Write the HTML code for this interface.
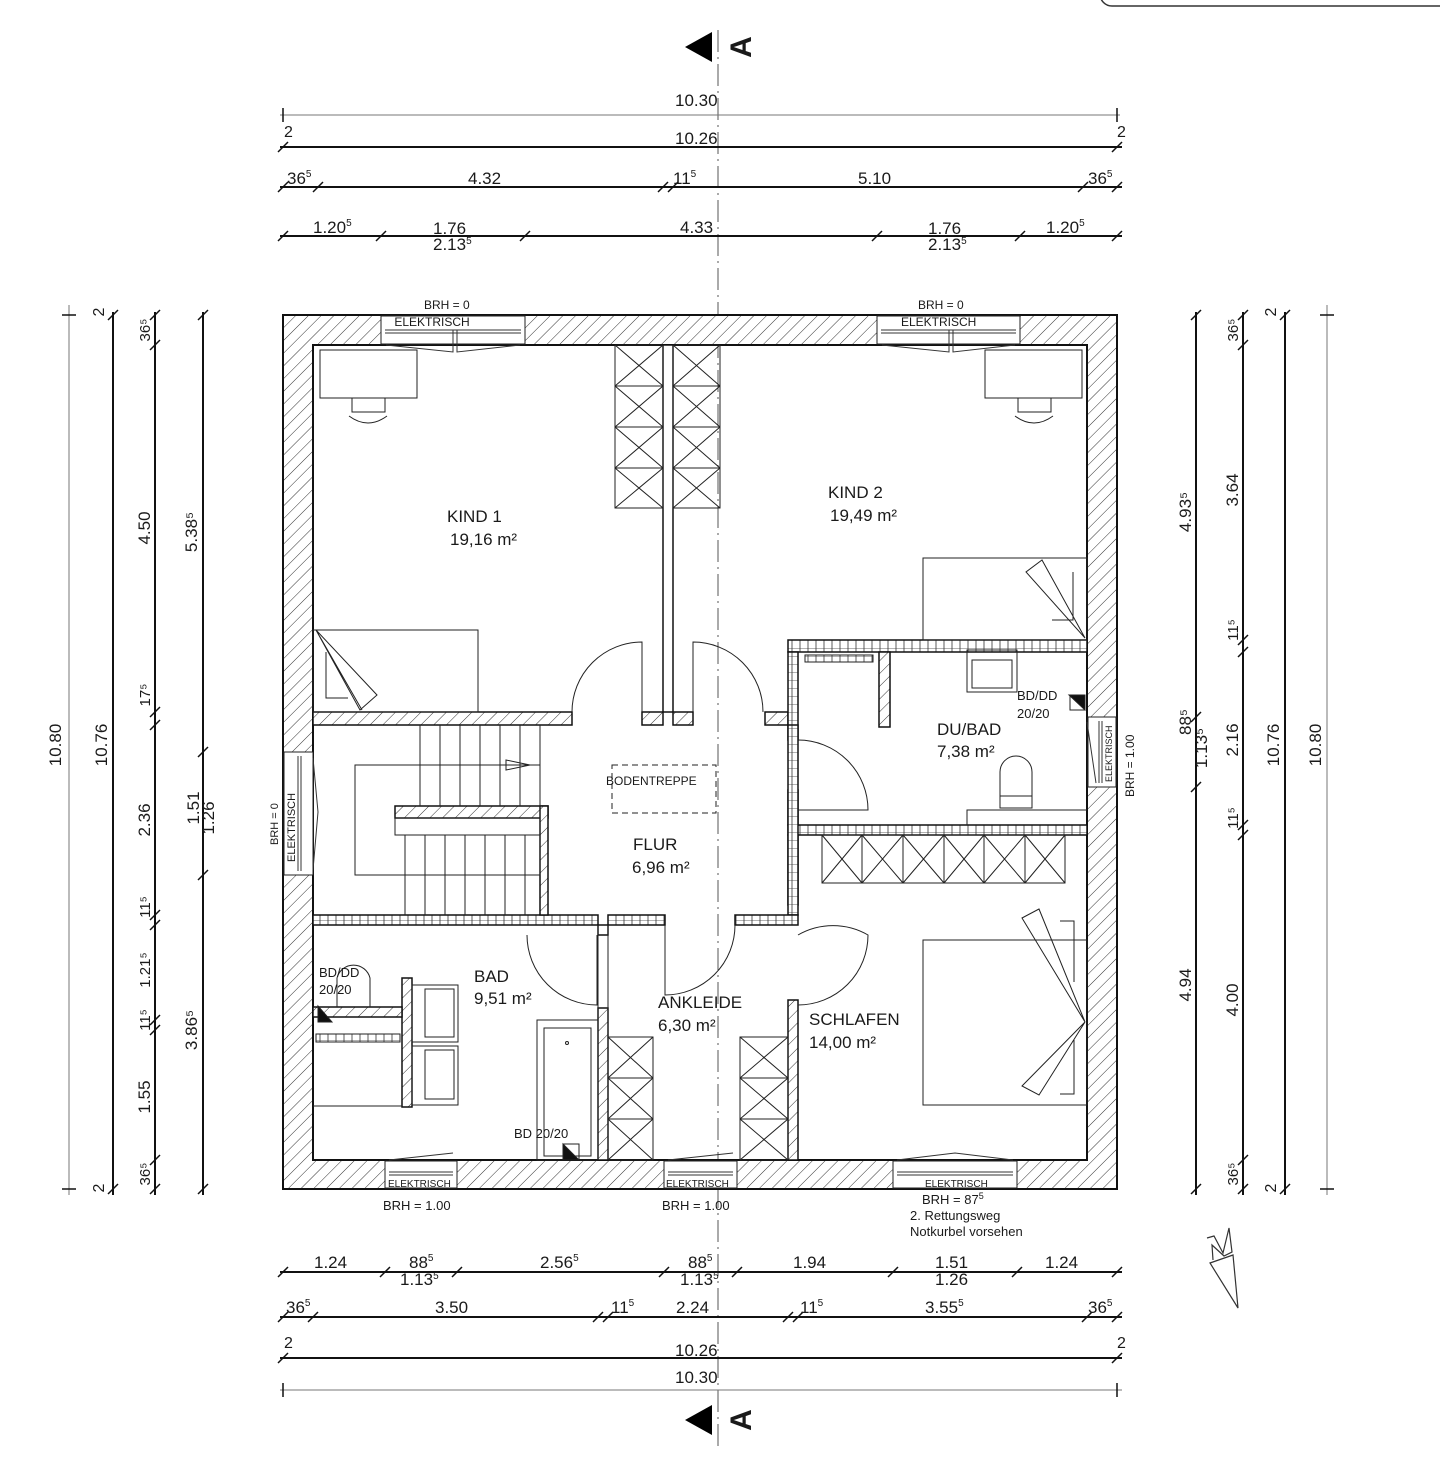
<!DOCTYPE html>
<html><head><meta charset="utf-8"><style>
html,body{margin:0;padding:0;background:#fff;}
svg{display:block;}
text{font-family:"Liberation Sans",sans-serif;fill:#1a1a1a;}
.r{font-size:17px;}
.d{font-size:17px;}
.s{font-size:12px;}
.sup{font-size:10px;}
</style></head><body>
<svg width="1440" height="1480" viewBox="0 0 1440 1480" xmlns="http://www.w3.org/2000/svg">
<defs>
<pattern id="h" patternUnits="userSpaceOnUse" width="9" height="9" patternTransform="rotate(45)">
<rect width="9" height="9" fill="#fff"/><line x1="0" y1="0" x2="0" y2="9" stroke="#333" stroke-width="1"/></pattern>
<pattern id="b" patternUnits="userSpaceOnUse" width="8" height="8">
<rect width="8" height="8" fill="#fff"/><path d="M0 0H8V8M0 0V8" fill="none" stroke="#333" stroke-width="0.8"/></pattern>
</defs>
<rect x="1100" y="-30" width="400" height="36" rx="12" fill="none" stroke="#333" stroke-width="1.5"/>

<!-- center axis -->
<line x1="718" y1="30" x2="718" y2="1450" stroke="#555" stroke-width="1" stroke-dasharray="22,5,2,5"/>

<!-- outer walls hatched -->
<path d="M283 315H1117V1189H283Z M313 345V1160H1087V345Z" fill="url(#h)" fill-rule="evenodd" stroke="#111" stroke-width="2"/>
<!-- windows -->
<g fill="#fff" stroke="#222" stroke-width="1">
<rect x="381" y="316" width="144" height="28"/><rect x="877" y="316" width="143" height="28"/>
<rect x="385" y="1161" width="72" height="27"/><rect x="664" y="1161" width="73" height="27"/><rect x="893" y="1161" width="124" height="27"/>
<rect x="284" y="752" width="29" height="123"/><rect x="1088" y="717" width="28" height="70"/>
</g>
<g stroke="#333" stroke-width="1" fill="none">
<path d="M385 330H521M385 333H521M386 345L453 352V330M520 345L457 352V330"/>
<path d="M881 330H1016M881 333H1016M882 345L949 352V330M1015 345L953 352V330"/>
<path d="M389 1175H453M389 1172H453M389 1160L453 1153"/>
<path d="M668 1175H733M668 1172H733M668 1160L733 1153"/>
<path d="M897 1175H1013M897 1172H1013M897 1160L955 1153L1013 1160"/>
<path d="M298 756V871M301 756V871M313 758L318 812L313 870"/>
<path d="M1102 721V783M1099 721V783M1087 722L1096 783"/>
</g>
<g class="s">
<text x="381" y="326" font-size="12">&#160;&#160;&#160;&#160;ELEKTRISCH</text>
<text x="901" y="326" font-size="12">ELEKTRISCH</text>
<text x="424" y="309" font-size="12">BRH = 0</text>
<text x="918" y="309" font-size="12">BRH = 0</text>
<text x="388" y="1187" font-size="10">ELEKTRISCH</text>
<text x="666" y="1187" font-size="10">ELEKTRISCH</text>
<text x="925" y="1187" font-size="10">ELEKTRISCH</text>
<text transform="translate(295,862) rotate(-90)" font-size="11">ELEKTRISCH</text>
<text transform="translate(278,845) rotate(-90)" font-size="11">BRH = 0</text>
<text transform="translate(1112,782) rotate(-90)" font-size="9">ELEKTRISCH</text>
<text transform="translate(1134,797) rotate(-90)" font-size="12">BRH = 1.00</text>
<text x="383" y="1210" font-size="13">BRH = 1.00</text>
<text x="662" y="1210" font-size="13">BRH = 1.00</text>
<text x="922" y="1204" font-size="13">BRH = 87<tspan font-size="9" dy="-5">5</tspan></text>
<text x="910" y="1220" font-size="13">2. Rettungsweg</text>
<text x="910" y="1236" font-size="13">Notkurbel vorsehen</text>
</g>

<!-- interior walls -->
<g stroke="#111" stroke-width="1.5">
<rect x="663" y="345" width="10" height="367" fill="#fff"/>
<rect x="313" y="712" width="259" height="13" fill="url(#h)"/>
<rect x="642" y="712" width="21" height="13" fill="url(#h)"/>
<rect x="673" y="712" width="20" height="13" fill="url(#h)"/>
<rect x="765" y="712" width="23" height="13" fill="url(#h)"/>
<rect x="788" y="640" width="299" height="12" fill="url(#b)"/>
<rect x="788" y="652" width="10" height="88" fill="url(#b)"/>
<rect x="788" y="825" width="299" height="10" fill="url(#b)"/>
<rect x="788" y="790" width="10" height="35" fill="url(#b)"/>
<rect x="788" y="835" width="10" height="70" fill="url(#b)"/>
<rect x="788" y="725" width="10" height="190" fill="url(#b)"/>
<rect x="313" y="915" width="285" height="10" fill="url(#b)"/>
<rect x="664" y="915" width="0" height="0"/>
<rect x="608" y="915" width="57" height="10" fill="url(#b)"/>
<rect x="735" y="915" width="63" height="10" fill="url(#b)"/>
<rect x="598" y="925" width="10" height="10" fill="#fff"/>
<rect x="598" y="1008" width="10" height="152" fill="url(#h)"/>
<rect x="788" y="1000" width="10" height="160" fill="url(#h)"/>
<rect x="879" y="652" width="11" height="75" fill="url(#h)"/>
<rect x="395" y="806" width="153" height="12" fill="url(#h)"/>
<rect x="540" y="806" width="8" height="109" fill="url(#h)"/>
<rect x="402" y="978" width="10" height="129" fill="url(#h)"/>
<rect x="313" y="1007" width="89" height="10" fill="url(#h)"/>
</g>
<g fill="none" stroke="#222" stroke-width="1">
<line x1="608" y1="925" x2="608" y2="1160"/><line x1="598" y1="925" x2="598" y2="1160"/>
<line x1="540" y1="725" x2="540" y2="806"/>
<!-- door arcs -->
<path d="M572 712A70 70 0 0 1 642 642V712"/>
<path d="M763 712A70 70 0 0 0 693 642V712"/>
<path d="M798 740A70 70 0 0 1 868 810H798"/>
<path d="M798 935A70 70 0 0 1 868 935A70 70 0 0 1 798 1005"/>
<path d="M527 935A70 70 0 0 0 597 1005V935"/>
<path d="M735 925A70 70 0 0 1 665 995V925"/>
<!-- Kind1 furniture -->
<rect x="320" y="350" width="97" height="48"/>
<path d="M352 398V412H385V398M349 416Q368 430 387 416"/>
<rect x="615" y="345" width="48" height="163"/>
<path d="M615 386H663M615 427H663M615 468H663M615 345L663 386M663 345L615 386M615 386L663 427M663 386L615 427M615 427L663 468M663 427L615 468M615 468L663 508M663 468L615 508"/>
<rect x="313" y="630" width="165" height="82"/>
<path d="M316 630L377 695L360 710Z M316 630L362 710M326 652V698H348"/>
<!-- Kind2 -->
<rect x="673" y="345" width="47" height="163"/>
<path d="M673 386H720M673 427H720M673 468H720M673 345L720 386M720 345L673 386M673 386L720 427M720 386L673 427M673 427L720 468M720 427L673 468M673 468L720 508M720 468L673 508"/>
<rect x="985" y="350" width="97" height="48"/>
<path d="M1018 398V412H1051V398M1015 416Q1034 430 1053 416"/>
<rect x="923" y="558" width="164" height="82"/>
<path d="M1085 638L1026 572L1042 560Z M1085 638L1042 560M1073 572V620H1052"/>
<!-- stair -->
<rect x="355" y="765" width="185" height="110"/>
<path d="M420 725V806M440 725V806M460 725V806M480 725V806M500 725V806M520 725V806"/>
<path d="M405 835V915M425 835V915M445 835V915M465 835V915M485 835V915M505 835V915M525 835V915"/>
<rect x="395" y="818" width="145" height="17"/>
<path d="M506 760L530 765L506 770Z"/>
<rect x="612" y="765" width="104" height="48" stroke-dasharray="6,4"/>
<!-- Du/Bad -->
<rect x="805" y="655" width="68" height="7" fill="url(#b)"/>
<rect x="967" y="650" width="50" height="42"/><rect x="972" y="660" width="40" height="28"/>
<path d="M1000 808V772A16 16 0 0 1 1032 772V808Z M1000 796H1032"/>
<path d="M967 825V810H1087"/>
<path d="M1069 695H1085V710Z" fill="#111"/>
<rect x="1070" y="695" width="15" height="15"/>
<!-- Schlafen -->
<rect x="822" y="835" width="243" height="48"/>
<path d="M862 835V883M903 835V883M944 835V883M984 835V883M1025 835V883"/>
<path d="M822 835L862 883M862 835L822 883M862 835L903 883M903 835L862 883M903 835L944 883M944 835L903 883M944 835L984 883M984 835L944 883M984 835L1025 883M1025 835L984 883M1025 835L1065 883M1065 835L1025 883"/>
<rect x="923" y="940" width="164" height="165"/>
<path d="M1085 1022L1039 909L1022 918Z M1085 1022L1022 918M1085 1022L1039 1095L1022 1086Z M1085 1022L1022 1086M1060 921H1074V982M1060 1094H1074V1040"/>
<!-- Ankleide -->
<rect x="608" y="1037" width="45" height="123"/>
<path d="M608 1078H653M608 1119H653M608 1037L653 1078M653 1037L608 1078M608 1078L653 1119M653 1078L608 1119M608 1119L653 1160M653 1119L608 1160"/>
<rect x="740" y="1037" width="48" height="123"/>
<path d="M740 1078H788M740 1119H788M740 1037L788 1078M788 1037L740 1078M740 1078L788 1119M788 1078L740 1119M740 1119L788 1160M788 1119L740 1160"/>
<!-- Bad -->
<path d="M337 1007V978A17 17 0 0 1 370 978V1007"/>
<path d="M318 1006L332 1022H318Z" fill="#111"/>
<rect x="316" y="1034" width="84" height="8" fill="url(#b)"/>
<line x1="313" y1="1106" x2="402" y2="1106"/>
<rect x="412" y="985" width="46" height="57"/><rect x="425" y="989" width="29" height="48"/>
<rect x="412" y="1046" width="46" height="59"/><rect x="425" y="1050" width="29" height="49"/>
<rect x="537" y="1020" width="61" height="140"/><rect x="544" y="1028" width="47" height="128"/>
<circle cx="567" cy="1043" r="1.5"/>
<rect x="563" y="1144" width="16" height="16"/>
<path d="M563 1144L579 1160H563Z" fill="#111"/>
</g>

<!-- room labels -->
<g class="r">
<text x="447" y="522">KIND 1</text><text x="450" y="545">19,16 m²</text>
<text x="828" y="498">KIND 2</text><text x="830" y="521">19,49 m²</text>
<text x="937" y="735">DU/BAD</text><text x="937" y="757">7,38 m²</text>
<text x="633" y="850">FLUR</text><text x="632" y="873">6,96 m²</text>
<text x="474" y="982">BAD</text><text x="474" y="1004">9,51 m²</text>
<text x="658" y="1008">ANKLEIDE</text><text x="658" y="1031">6,30 m²</text>
<text x="809" y="1025">SCHLAFEN</text><text x="809" y="1048">14,00 m²</text>
</g>
<g class="s">
<text x="606" y="785" font-size="12">BODENTREPPE</text>
<text x="1017" y="700" font-size="13">BD/DD</text><text x="1017" y="718" font-size="13">20/20</text>
<text x="319" y="977" font-size="13">BD/DD</text><text x="319" y="994" font-size="13">20/20</text>
<text x="514" y="1138" font-size="13">BD 20/20</text>
</g>

<!-- section markers -->
<path d="M712 32V62L685 47Z" fill="#000"/>
<text transform="translate(740,47) rotate(-90)" font-size="30" font-weight="bold" text-anchor="middle" dy="11">A</text>
<path d="M712 1405V1435L685 1420Z" fill="#000"/>
<text transform="translate(740,1420) rotate(-90)" font-size="30" font-weight="bold" text-anchor="middle" dy="11">A</text>

<!-- north arrow -->
<g fill="none" stroke="#333" stroke-width="1.2">
<path d="M1210 1263L1233 1255L1238 1308Z"/>
<path d="M1207 1238L1214 1236L1223 1253L1229 1228L1232 1252L1224 1256L1212 1245L1213 1260"/>
</g>

<!-- dimension lines -->
<g stroke="#111" stroke-width="1.5" fill="none">
<line x1="280" y1="115" x2="1120" y2="115" stroke="#777" stroke-width="1"/>
<line x1="280" y1="147" x2="1122" y2="147" stroke-width="2"/>
<line x1="280" y1="187" x2="1122" y2="187" stroke-width="2"/>
<line x1="280" y1="236" x2="1122" y2="236" stroke-width="2"/>
<line x1="280" y1="1272" x2="1122" y2="1272" stroke-width="2"/>
<line x1="280" y1="1317" x2="1122" y2="1317" stroke-width="2"/>
<line x1="280" y1="1358" x2="1122" y2="1358" stroke-width="2"/>
<line x1="280" y1="1390" x2="1122" y2="1390" stroke="#777" stroke-width="1"/>
<line x1="69" y1="305" x2="69" y2="1195" stroke="#777" stroke-width="1"/>
<line x1="113" y1="312" x2="113" y2="1195" stroke-width="2"/>
<line x1="155" y1="312" x2="155" y2="1195" stroke-width="2"/>
<line x1="203" y1="312" x2="203" y2="1195" stroke-width="2"/>
<line x1="1196" y1="312" x2="1196" y2="1195" stroke-width="2"/>
<line x1="1243" y1="312" x2="1243" y2="1195" stroke-width="2"/>
<line x1="1285" y1="312" x2="1285" y2="1195" stroke-width="2"/>
<line x1="1327" y1="305" x2="1327" y2="1195" stroke="#777" stroke-width="1"/>
</g>
<g stroke="#111" stroke-width="1.5">
<!-- top ticks -->
<path d="M283 108V122M1117 108V122M278 152L288 142M1112 152L1122 142"/>
<path d="M278 192L288 182M313 192L323 182M658 192L668 182M668 192L678 182M1078 192L1088 182M1112 192L1122 182"/>
<path d="M278 241L288 231M376 241L386 231M520 241L530 231M872 241L882 231M1015 241L1025 231M1112 241L1122 231"/>
<!-- bottom ticks -->
<path d="M278 1277L288 1267M380 1277L390 1267M452 1277L462 1267M659 1277L669 1267M732 1277L742 1267M888 1277L898 1267M1012 1277L1022 1267M1112 1277L1122 1267"/>
<path d="M278 1322L288 1312M308 1322L318 1312M593 1322L603 1312M603 1322L613 1312M783 1322L793 1312M793 1322L803 1312M1082 1322L1092 1312M1112 1322L1122 1312"/>
<path d="M278 1363L288 1353M1112 1363L1122 1353M283 1383V1397M1117 1383V1397"/>
<!-- left ticks -->
<path d="M62 315H76M62 1189H76M108 320L118 310M108 1194L118 1184"/>
<path d="M150 320L160 310M150 350L160 340M150 717L160 707M150 730L160 720M150 920L160 910M150 930L160 920M150 1025L160 1015M150 1035L160 1025M150 1165L160 1155M150 1194L160 1184"/>
<path d="M198 320L208 310M198 757L208 747M198 880L208 870M198 1194L208 1184"/>
<!-- right ticks -->
<path d="M1191 320L1201 310M1191 722L1201 712M1191 792L1201 782M1191 1194L1201 1184"/>
<path d="M1238 320L1248 310M1238 350L1248 340M1238 645L1248 635M1238 657L1248 647M1238 830L1248 820M1238 840L1248 830M1238 1165L1248 1155M1238 1194L1248 1184"/>
<path d="M1280 320L1290 310M1280 1194L1290 1184M1320 315H1334M1320 1189H1334"/>
</g>
<g class="d">
<text x="675" y="106">10.30</text>
<text x="675" y="144">10.26</text>
<text x="284" y="137" font-size="16">2</text><text x="1117" y="137" font-size="16">2</text>
<text x="287" y="184">36<tspan class="sup" dy="-7">5</tspan></text>
<text x="468" y="184" dy="0">4.32</text>
<text x="673" y="184">11<tspan class="sup" dy="-7">5</tspan></text>
<text x="858" y="184">5.10</text>
<text x="1088" y="184">36<tspan class="sup" dy="-7">5</tspan></text>
<text x="313" y="233">1.20<tspan class="sup" dy="-7">5</tspan></text>
<text x="433" y="234">1.76</text><text x="433" y="250">2.13<tspan class="sup" dy="-6">5</tspan></text>
<text x="680" y="233">4.33</text>
<text x="928" y="234">1.76</text><text x="928" y="250">2.13<tspan class="sup" dy="-6">5</tspan></text>
<text x="1046" y="233">1.20<tspan class="sup" dy="-7">5</tspan></text>

<text x="314" y="1268">1.24</text>
<text x="409" y="1268">88<tspan class="sup" dy="-7">5</tspan></text>
<text x="400" y="1285">1.13<tspan class="sup" dy="-6">5</tspan></text>
<text x="540" y="1268">2.56<tspan class="sup" dy="-7">5</tspan></text>
<text x="688" y="1268">88<tspan class="sup" dy="-7">5</tspan></text>
<text x="680" y="1285">1.13<tspan class="sup" dy="-6">5</tspan></text>
<text x="793" y="1268">1.94</text>
<text x="935" y="1268">1.51</text><text x="935" y="1285">1.26</text>
<text x="1045" y="1268">1.24</text>
<text x="286" y="1313">36<tspan class="sup" dy="-7">5</tspan></text>
<text x="435" y="1313">3.50</text>
<text x="611" y="1313">11<tspan class="sup" dy="-7">5</tspan></text>
<text x="676" y="1313">2.24</text>
<text x="800" y="1313">11<tspan class="sup" dy="-7">5</tspan></text>
<text x="925" y="1313">3.55<tspan class="sup" dy="-7">5</tspan></text>
<text x="1088" y="1313">36<tspan class="sup" dy="-7">5</tspan></text>
<text x="284" y="1348" font-size="16">2</text><text x="1117" y="1348" font-size="16">2</text>
<text x="675" y="1356">10.26</text>
<text x="675" y="1383">10.30</text>
</g>
<g class="d" text-anchor="middle">
<text transform="translate(61,745) rotate(-90)">10.80</text>
<text transform="translate(107,745) rotate(-90)">10.76</text>
<text transform="translate(104,312) rotate(-90)" font-size="16">2</text>
<text transform="translate(104,1188) rotate(-90)" font-size="16">2</text>
<text transform="translate(150,330) rotate(-90)" font-size="15">36⁵</text>
<text transform="translate(150,528) rotate(-90)">4.50</text>
<text transform="translate(150,695) rotate(-90)" font-size="15">17⁵</text>
<text transform="translate(150,820) rotate(-90)">2.36</text>
<text transform="translate(150,907) rotate(-90)" font-size="15">11⁵</text>
<text transform="translate(150,970) rotate(-90)" font-size="15">1.21⁵</text>
<text transform="translate(150,1020) rotate(-90)" font-size="15">11⁵</text>
<text transform="translate(150,1097) rotate(-90)">1.55</text>
<text transform="translate(150,1174) rotate(-90)" font-size="15">36⁵</text>
<text transform="translate(197,532) rotate(-90)">5.38⁵</text>
<text transform="translate(199,808) rotate(-90)">1.51</text>
<text transform="translate(214,818) rotate(-90)">1.26</text>
<text transform="translate(197,1030) rotate(-90)">3.86⁵</text>

<text transform="translate(1191,512) rotate(-90)">4.93⁵</text>
<text transform="translate(1191,722) rotate(-90)">88⁵</text>
<text transform="translate(1207,748) rotate(-90)">1.13⁵</text>
<text transform="translate(1191,985) rotate(-90)">4.94</text>
<text transform="translate(1238,330) rotate(-90)" font-size="15">36⁵</text>
<text transform="translate(1238,490) rotate(-90)">3.64</text>
<text transform="translate(1238,630) rotate(-90)" font-size="15">11⁵</text>
<text transform="translate(1238,740) rotate(-90)">2.16</text>
<text transform="translate(1238,818) rotate(-90)" font-size="15">11⁵</text>
<text transform="translate(1238,1000) rotate(-90)">4.00</text>
<text transform="translate(1238,1174) rotate(-90)" font-size="15">36⁵</text>
<text transform="translate(1279,745) rotate(-90)">10.76</text>
<text transform="translate(1276,312) rotate(-90)" font-size="16">2</text>
<text transform="translate(1276,1188) rotate(-90)" font-size="16">2</text>
<text transform="translate(1321,745) rotate(-90)">10.80</text>
</g>
</svg>
</body></html>
